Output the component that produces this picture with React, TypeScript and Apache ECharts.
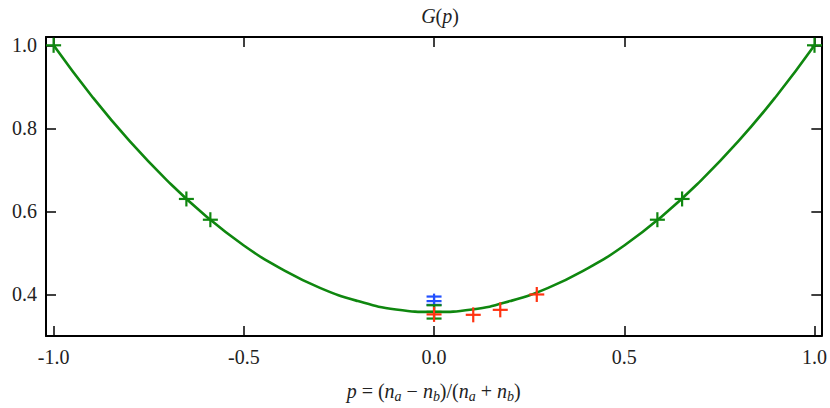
import React, { useEffect, useRef } from "react";
import * as echarts from "echarts";

// Fitted curve G(p)
const curveP = [-1.0, -0.9, -0.8, -0.7, -0.6, -0.5, -0.4, -0.3, -0.2, -0.1, 0.0, 0.1, 0.2, 0.3, 0.4, 0.5, 0.6, 0.7, 0.8, 0.9, 1.0];
const curveG = [1.0, 0.878, 0.769, 0.673, 0.589, 0.518, 0.461, 0.416, 0.384, 0.364, 0.358, 0.364, 0.384, 0.416, 0.461, 0.518, 0.589, 0.673, 0.769, 0.878, 1.0];

// Green points (with error bar bounds; lo == hi means no bar)
const greenP = [-1.0, -0.651, -0.588, 0.0, 0.587, 0.652, 1.0];
const greenG = [1.0, 0.63, 0.58, 0.358, 0.58, 0.63, 1.0];
const greenLo = [1.0, 0.63, 0.58, 0.342, 0.58, 0.63, 1.0];
const greenHi = [1.0, 0.63, 0.58, 0.374, 0.58, 0.63, 1.0];

// Blue point
const blueP = [0.0];
const blueG = [0.384];
const blueLo = [0.375];
const blueHi = [0.395];

// Red points
const redP = [0.0, 0.103, 0.174, 0.27];
const redG = [0.352, 0.351, 0.363, 0.4];

const xTicks = [-1.0, -0.5, 0.0, 0.5, 1.0];
const yTicks = [0.4, 0.6, 0.8, 1.0];

const GREEN = "#0f870f";
const RED = "#ff3311";
const BLUE = "#2250ff";
const FONT = "Liberation Serif";

function makeRender(color: string) {
  return (params: any, api: any) => {
    const x = api.value(0);
    const y = api.value(1);
    const lo = api.value(2);
    const hi = api.value(3);
    const c = api.coord([x, y]);
    const h = 7.5;
    const st = { stroke: color, lineWidth: 2.2 };
    const children: any[] = [
      { type: "line", shape: { x1: c[0] - h, y1: c[1], x2: c[0] + h, y2: c[1] }, style: st },
      { type: "line", shape: { x1: c[0], y1: c[1] - h, x2: c[0], y2: c[1] + h }, style: st },
    ];
    if (lo !== hi) {
      const a = api.coord([x, lo]);
      const b = api.coord([x, hi]);
      children.push(
        { type: "line", shape: { x1: a[0], y1: a[1], x2: b[0], y2: b[1] }, style: st },
        { type: "line", shape: { x1: a[0] - h, y1: a[1], x2: a[0] + h, y2: a[1] }, style: st },
        { type: "line", shape: { x1: b[0] - h, y1: b[1], x2: b[0] + h, y2: b[1] }, style: st }
      );
    }
    return { type: "group", children };
  };
}

export default function App() {
  const ref = useRef<HTMLDivElement>(null);
  useEffect(() => {
    if (!ref.current) return;
    const chart = echarts.init(ref.current, null, { renderer: "svg" });
    const axisCommon = {
      type: "value" as const,
      splitLine: { show: false },
      axisLine: { show: true, onZero: false, lineStyle: { color: "#000", width: 2 } },
    };
    const xMin = -1.02, xMax = 1.018, yMin = 0.3, yMax = 1.02;
    const curveData = curveP.map((p, i) => [p, curveG[i]]);
    const greenData = greenP.map((p, i) => [p, greenG[i], greenLo[i], greenHi[i]]);
    const blueData = blueP.map((p, i) => [p, blueG[i], blueLo[i], blueHi[i]]);
    const redData = redP.map((p, i) => [p, redG[i], redG[i], redG[i]]);
    chart.setOption({
      animation: false,
      backgroundColor: "#fff",
      textStyle: { fontFamily: FONT },
      title: {
        text: "{i|G}({i|p})",
        left: 435,
        textAlign: "center",
        top: 1,
        textStyle: {
          fontFamily: FONT,
          fontWeight: "normal",
          fontSize: 20,
          color: "#222",
          rich: { i: { fontStyle: "italic", fontFamily: FONT, fontSize: 20, color: "#222" } },
        },
      },
      grid: { left: 46, right: 5, top: 37, bottom: 69, containLabel: false },
      xAxis: [
        {
          ...axisCommon,
          position: "bottom",
          min: xMin,
          max: xMax,
          axisTick: { show: true, inside: true, length: 10, customValues: xTicks, lineStyle: { color: "#000", width: 1.5 } },
          axisLabel: {
            show: true,
            customValues: xTicks,
            formatter: (v: number) => v.toFixed(1),
            fontFamily: FONT,
            fontSize: 20,
            color: "#222",
            margin: 11,
          },
          name: "{i|p} = ({i|n}{s|a} − {i|n}{s|b})/({i|n}{s|a} + {i|n}{s|b})",
          nameLocation: "middle",
          nameGap: 43,
          nameTextStyle: {
            fontFamily: FONT,
            fontSize: 20,
            color: "#222",
            rich: {
              i: { fontStyle: "italic", fontFamily: FONT, fontSize: 20, color: "#222", lineHeight: 24 },
              s: { fontStyle: "italic", fontFamily: FONT, fontSize: 14, color: "#222", verticalAlign: "bottom", lineHeight: 14 },
            },
          },
        },
        {
          ...axisCommon,
          position: "top",
          min: xMin,
          max: xMax,
          axisTick: { show: true, inside: true, length: 10, customValues: xTicks, lineStyle: { color: "#000", width: 1.5 } },
          axisLabel: { show: false },
        },
      ],
      yAxis: [
        {
          ...axisCommon,
          position: "left",
          min: yMin,
          max: yMax,
          axisTick: { show: true, inside: true, length: 10, customValues: yTicks, lineStyle: { color: "#000", width: 1.5 } },
          axisLabel: {
            show: true,
            customValues: yTicks,
            formatter: (v: number) => v.toFixed(1),
            fontFamily: FONT,
            fontSize: 20,
            color: "#222",
            margin: 9,
          },
        },
        {
          ...axisCommon,
          position: "right",
          min: yMin,
          max: yMax,
          axisTick: { show: true, inside: true, length: 10, customValues: yTicks, lineStyle: { color: "#000", width: 1.5 } },
          axisLabel: { show: false },
        },
      ],
      series: [
        {
          type: "line",
          xAxisIndex: 0,
          yAxisIndex: 0,
          data: curveData,
          smooth: true,
          showSymbol: false,
          symbol: "none",
          lineStyle: { color: GREEN, width: 2.6 },
          z: 2,
        },
        { type: "custom", xAxisIndex: 0, yAxisIndex: 0, data: blueData, renderItem: makeRender(BLUE), z: 3 },
        { type: "custom", xAxisIndex: 0, yAxisIndex: 0, data: greenData, renderItem: makeRender(GREEN), z: 4 },
        { type: "custom", xAxisIndex: 0, yAxisIndex: 0, data: redData, renderItem: makeRender(RED), z: 5 },
      ],
    });
    return () => chart.dispose();
  }, []);
  return (
    <div
      ref={ref}
      style={{ position: "fixed", left: 0, top: 0, width: 830, height: 408, background: "#fff" }}
    />
  );
}
